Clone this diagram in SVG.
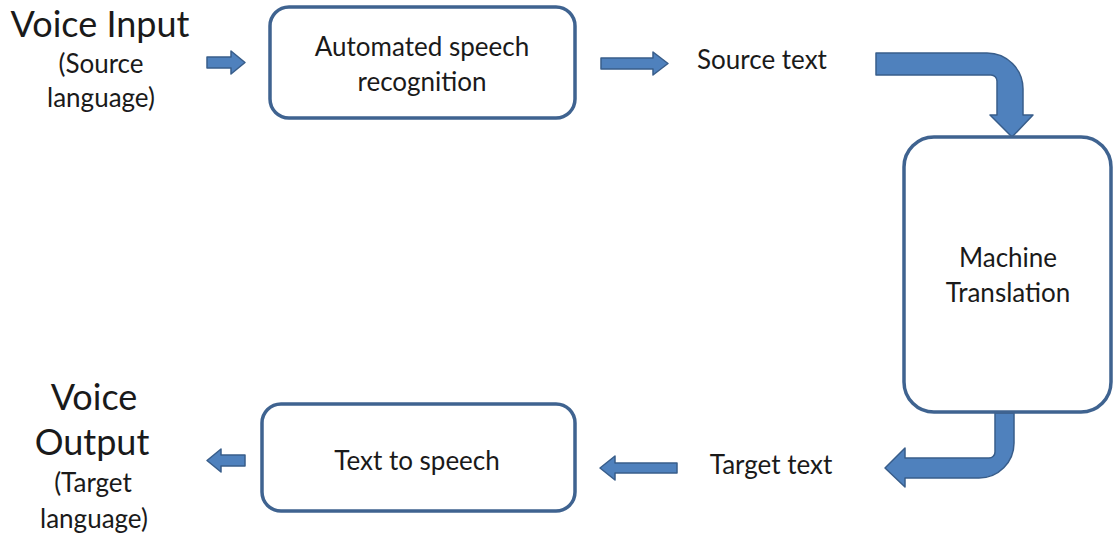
<svg xmlns="http://www.w3.org/2000/svg" width="1113" height="536" viewBox="0 0 1113 536">
  <style>
    .box { fill: #ffffff; stroke: #3f6390; stroke-width: 3.5; }
    .arrow { fill: #4f81bd; stroke: #385d8a; stroke-width: 1.5; stroke-linejoin: round; }
    text { font-family: Lato, "Open Sans", "Liberation Sans", sans-serif; fill: #1a1a1a; text-anchor: middle; }
    .big { font-size: 36px; }
    .mid { font-size: 26px; }
  </style>
  <rect width="1113" height="536" fill="#ffffff"/>

  <g id="connectors">
    <!-- voice input to ASR -->
    <path class="arrow" d="M207,57 H231 V51 L245,62.5 L231,74 V68 H207 Z"/>
    <!-- ASR to source text -->
    <path class="arrow" d="M601,58 H653 V52 L668,63.5 L653,75 V69 H601 Z"/>
    <!-- source text bending down into machine translation -->
    <path class="arrow" d="M876,53 H987 A36,36 0 0 1 1023,89 V115 H1033 L1012,137 L990,115 H997 V81 A6,6 0 0 0 991,75 H876 Z"/>
    <!-- machine translation bending down-left to target text -->
    <path class="arrow" d="M1014,413 V443 A35,35 0 0 1 979,478 H905 V487 L885,468 L905,448 V458 H989 A6,6 0 0 0 995,452 V413 Z"/>
    <!-- target text to text-to-speech -->
    <path class="arrow" d="M677,463 H615 V456 L600,468 L615,480 V473 H677 Z"/>
    <!-- text-to-speech to voice output -->
    <path class="arrow" d="M245,455 H221 V449 L207,460.5 L221,472 V466 H245 Z"/>
  </g>

  <g id="voice-input">
    <text class="big" x="100" y="37">Voice Input</text>
    <text class="mid" x="101" y="73">(Source</text>
    <text class="mid" x="101" y="107">language)</text>
  </g>

  <g id="asr">
    <rect class="box" x="270" y="7" width="305" height="111" rx="19"/>
    <text class="mid" x="422" y="56">Automated speech</text>
    <text class="mid" x="422" y="91">recognition</text>
  </g>

  <g id="source-text">
    <text class="mid" x="762" y="69">Source text</text>
  </g>

  <g id="machine-translation">
    <rect class="box" x="904" y="137" width="207" height="275" rx="30"/>
    <text class="mid" x="1008" y="267">Machine</text>
    <text class="mid" x="1008" y="302">Translation</text>
  </g>

  <g id="target-text">
    <text class="mid" x="771" y="474">Target text</text>
  </g>

  <g id="tts">
    <rect class="box" x="262" y="404" width="313" height="107" rx="19"/>
    <text class="mid" x="417" y="470">Text to speech</text>
  </g>

  <g id="voice-output">
    <text class="big" x="94" y="410">Voice</text>
    <text class="big" x="92" y="455">Output</text>
    <text class="mid" x="93" y="492">(Target</text>
    <text class="mid" x="94" y="528">language)</text>
  </g>
</svg>
